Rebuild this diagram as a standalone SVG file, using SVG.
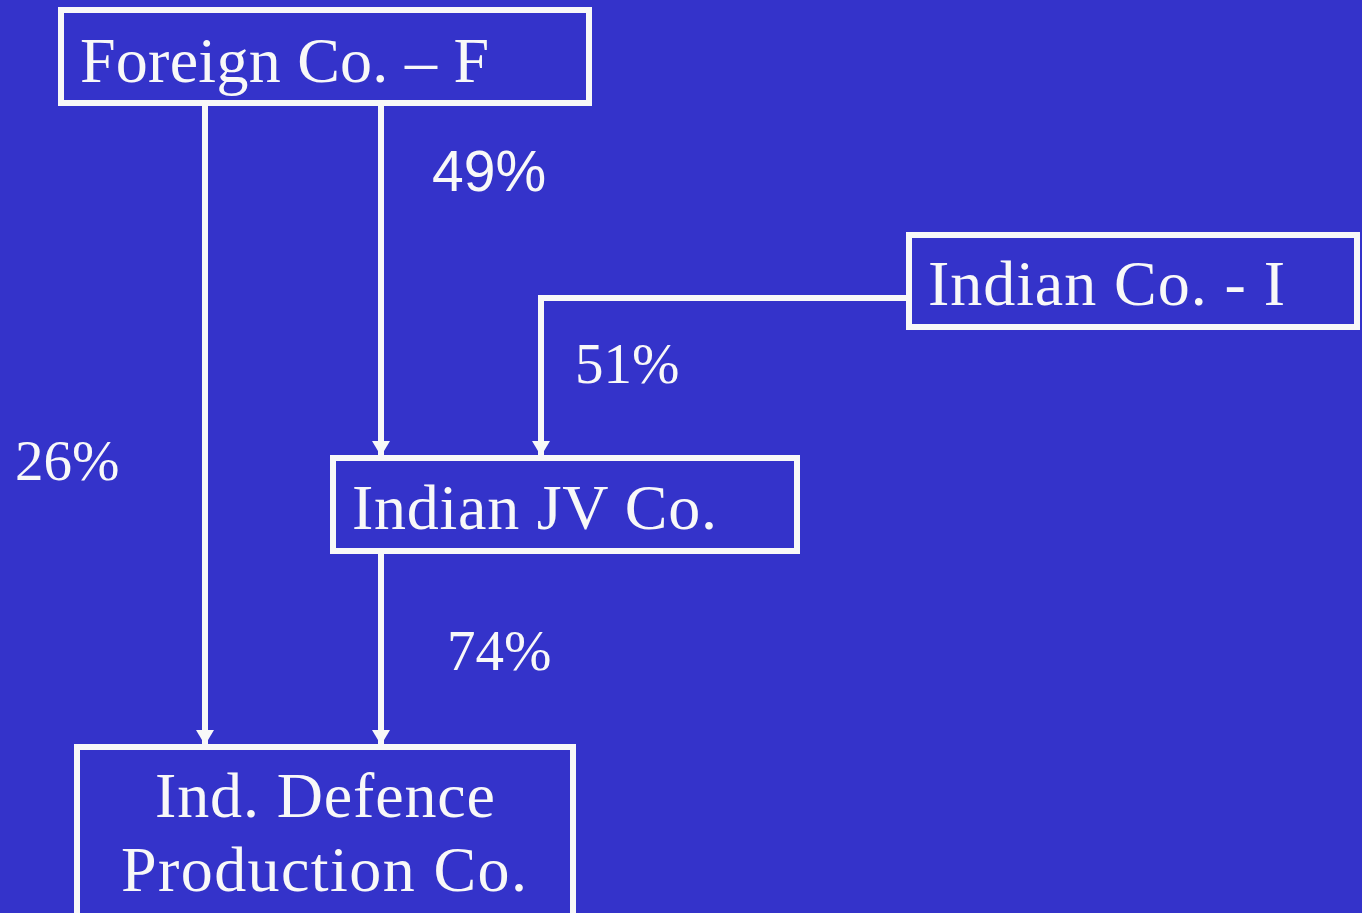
<svg xmlns="http://www.w3.org/2000/svg" width="1362" height="913" viewBox="0 0 1362 913">
<style>
.box{fill:#3433CA;stroke:#F8F8F8;stroke-width:6}
.t{font-family:"Liberation Serif",serif;font-size:64px;fill:#F8F8F8}
.p{font-family:"Liberation Serif",serif;font-size:57px;fill:#F8F8F8}
.s{font-family:"Liberation Sans",sans-serif;font-size:57px;fill:#F8F8F8}
.c{fill:none;stroke:#F8F8F8;stroke-width:6}
.ah{fill:#F8F8F8}
</style>
<rect width="1362" height="913" fill="#3433CA"/>
<g id="connectors">
<path class="c" d="M205,106 V744"/>
<path class="ah" d="M196,730 L214,730 L205,745 Z"/>
<path class="c" d="M381,106 V455"/>
<path class="ah" d="M372,441 L390,441 L381,456 Z"/>
<path class="c" d="M906,298 H541 V455"/>
<path class="ah" d="M532,441 L550,441 L541,456 Z"/>
<path class="c" d="M381,554 V744"/>
<path class="ah" d="M372,730 L390,730 L381,745 Z"/>
<text class="s" x="432" y="191">49%</text>
<text class="p" x="15" y="480">26%</text>
<text class="p" x="575" y="383">51%</text>
<text class="p" x="447" y="670">74%</text>
</g>
<g id="foreign">
<rect class="box" x="61" y="10" width="528" height="93"/>
<text class="t" x="80" y="82" textLength="409">Foreign Co. – F</text>
</g>
<g id="indian">
<rect class="box" x="909" y="235" width="448" height="92"/>
<text class="t" x="928" y="305" textLength="357">Indian Co. - I</text>
</g>
<g id="jv">
<rect class="box" x="333" y="458" width="464" height="93"/>
<text class="t" x="352" y="529" textLength="365">Indian JV Co.</text>
</g>
<g id="defence">
<rect class="box" x="77" y="747" width="496" height="180"/>
<text class="t" x="155" y="817" textLength="340">Ind. Defence</text>
<text class="t" x="121" y="891" textLength="406">Production Co.</text>
</g>
</svg>
